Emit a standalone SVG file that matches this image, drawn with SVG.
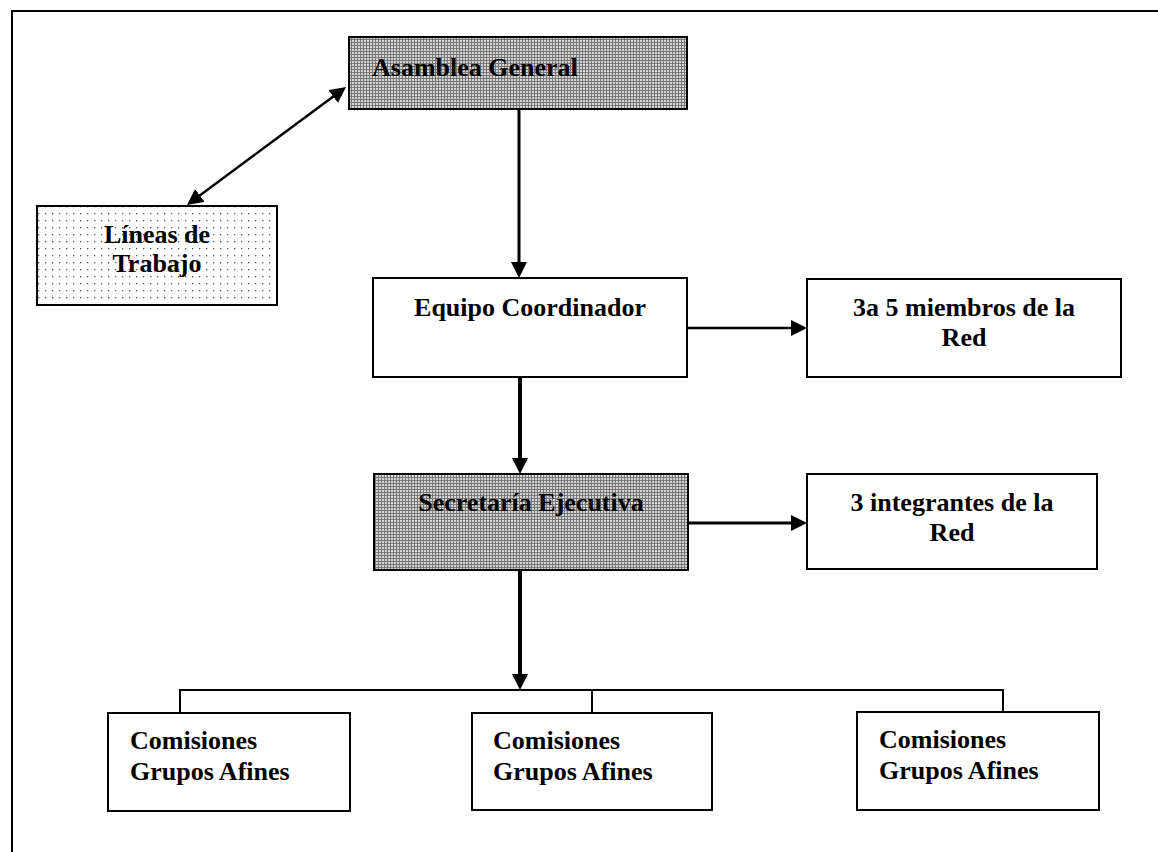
<svg xmlns="http://www.w3.org/2000/svg" width="1158" height="852" viewBox="0 0 1158 852">
<style>
.box{stroke:#000;stroke-width:2;}
.plain{fill:#fff;}
.gray{fill:url(#grayPat);}
.dots{fill:url(#dotPat);}
.t{font-family:"Liberation Serif","Times New Roman",serif;font-weight:bold;font-size:26px;fill:#000;}
.c{text-anchor:middle;}
.conn{fill:none;stroke:#000;}
</style>
<defs>
<pattern id="grayPat" width="3" height="3" patternUnits="userSpaceOnUse">
<rect width="3" height="3" fill="#d4d4d4"/>
<path d="M0,0.5 H3 M0.5,0 V3" stroke="#777" stroke-width="1"/>
</pattern>
<pattern id="dotPat" width="7" height="7" patternUnits="userSpaceOnUse">
<rect width="7" height="7" fill="#fff"/>
<rect x="3" y="3" width="1.3" height="1.3" fill="#555"/>
</pattern>
<marker id="arr" viewBox="0 0 16 16" markerUnits="userSpaceOnUse" markerWidth="16" markerHeight="16" refX="6" refY="8" orient="auto-start-reverse">
<path d="M0,0 L16,8 L0,16 z" fill="#000"/>
</marker>
</defs>
<rect width="1158" height="852" fill="#fff"/>
<path d="M12,852 V11 H1158" fill="none" stroke="#000" stroke-width="2"/>

<g id="connectors">
<path class="conn" stroke-width="3" d="M519,109 V268" marker-end="url(#arr)"/>
<path class="conn" stroke-width="2.5" d="M687,328 H797" marker-end="url(#arr)"/>
<path class="conn" stroke-width="4" d="M520,377 V464" marker-end="url(#arr)"/>
<path class="conn" stroke-width="3" d="M688,523 H797" marker-end="url(#arr)"/>
<path class="conn" stroke-width="4" d="M520,570 V680" marker-end="url(#arr)"/>
<path class="conn" stroke-width="2" d="M180,713 V690 H1003 V713 M592,690 V713"/>
<path class="conn" stroke-width="2.5" d="M195,199 L338,93" marker-start="url(#arr)" marker-end="url(#arr)"/>
</g>

<g id="asamblea">
<rect class="box gray" x="349" y="37" width="338" height="72"/>
<text class="t" x="372" y="76">Asamblea General</text>
</g>
<g id="lineas">
<rect class="box dots" x="37" y="206" width="240" height="99"/>
<text class="t c" x="157" y="243">Líneas de</text>
<text class="t c" x="157" y="272">Trabajo</text>
</g>
<g id="equipo">
<rect class="box plain" x="373" y="278" width="314" height="99"/>
<text class="t c" x="530" y="316">Equipo Coordinador</text>
</g>
<g id="miembros">
<rect class="box plain" x="807" y="279" width="314" height="98"/>
<text class="t c" x="964" y="316">3a 5 miembros de la</text>
<text class="t c" x="964" y="346">Red</text>
</g>
<g id="secretaria">
<rect class="box gray" x="374" y="474" width="314" height="96"/>
<text class="t c" x="531" y="511">Secretaría Ejecutiva</text>
</g>
<g id="integrantes">
<rect class="box plain" x="807" y="474" width="290" height="95"/>
<text class="t c" x="952" y="511">3 integrantes de la</text>
<text class="t c" x="952" y="541">Red</text>
</g>
<g id="comisiones1">
<rect class="box plain" x="108" y="713" width="242" height="98"/>
<text class="t" x="130" y="749">Comisiones</text>
<text class="t" x="130" y="780">Grupos Afines</text>
</g>
<g id="comisiones2">
<rect class="box plain" x="472" y="713" width="240" height="97"/>
<text class="t" x="493" y="749">Comisiones</text>
<text class="t" x="493" y="780">Grupos Afines</text>
</g>
<g id="comisiones3">
<rect class="box plain" x="857" y="712" width="242" height="98"/>
<text class="t" x="879" y="748">Comisiones</text>
<text class="t" x="879" y="779">Grupos Afines</text>
</g>
</svg>
